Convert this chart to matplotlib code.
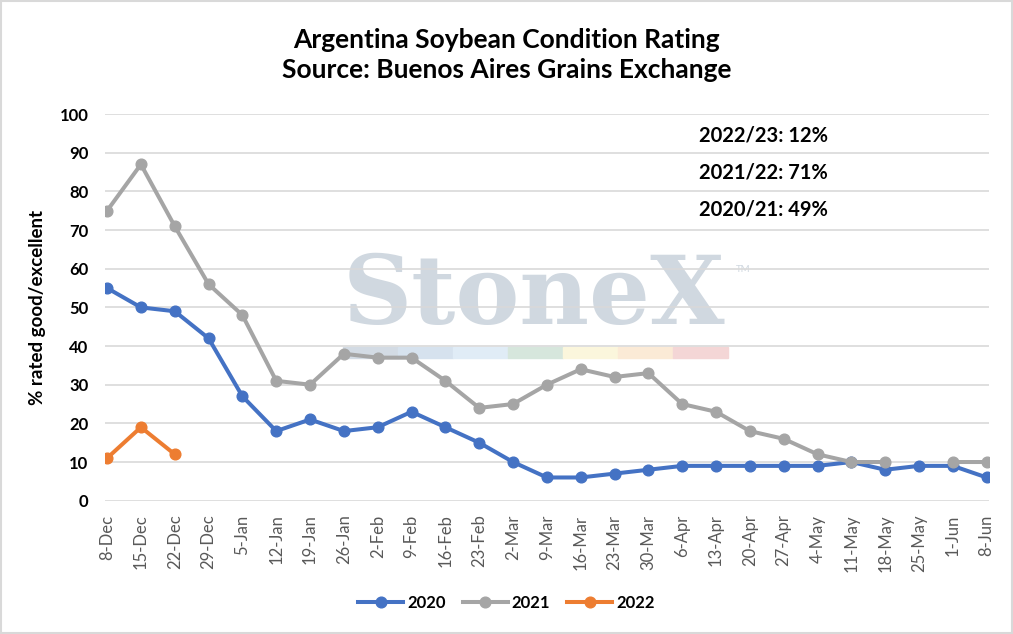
import matplotlib.pyplot as plt
import matplotlib.patches as mpatches
import numpy as np

# --- DATA ---------------------------------------------------------------------
weeks = ["8-Dec", "15-Dec", "22-Dec", "29-Dec", "5-Jan", "12-Jan", "19-Jan",
         "26-Jan", "2-Feb", "9-Feb", "16-Feb", "23-Feb", "2-Mar", "9-Mar",
         "16-Mar", "23-Mar", "30-Mar", "6-Apr", "13-Apr", "20-Apr", "27-Apr",
         "4-May", "11-May", "18-May", "25-May", "1-Jun", "8-Jun"]

s2020 = [55, 50, 49, 42, 27, 18, 21, 18, 19, 23, 19, 15, 10, 6, 6, 7, 8,
         9, 9, 9, 9, 9, 10, 8, 9, 9, 6]
s2021 = [75, 87, 71, 56, 48, 31, 30, 38, 37, 37, 31, 24, 25, 30, 34, 32, 33,
         25, 23, 18, 16, 12, 10, 10, np.nan, 10, 10]
s2022 = [11, 19, 12]

notes = ["2022/23: 12%", "2021/22: 71%", "2020/21: 49%"]

# --- STYLE --------------------------------------------------------------------
plt.rcParams["font.family"] = ["Lato", "DejaVu Sans"]

BLUE   = "#4472C4"
GREY   = "#A5A5A5"
ORANGE = "#ED7D31"

fig = plt.figure(figsize=(10.13, 6.34), dpi=100)
ax  = fig.add_axes([0.1037, 0.2103, 0.8723, 0.6097])
ax.patch.set_alpha(0)

x = np.arange(len(weeks))
ax.plot(x, s2020, color=BLUE, lw=2.9, marker="o", ms=7.7, label="2020", zorder=3)
ax.plot(x, s2021, color=GREY, lw=2.9, marker="o", ms=7.7, label="2021", zorder=3)
ax.plot(x[:len(s2022)], s2022, color=ORANGE, lw=2.9, marker="o", ms=7.7,
        label="2022", zorder=3)

ax.set_xlim(-0.06, len(weeks) - 1 + 0.06)
ax.set_ylim(0, 100)
ax.set_yticks(range(0, 101, 10))
ax.set_xticks(x)
ax.set_xticklabels(weeks, rotation=90, fontsize=12, color="#595959")
for lbl in ax.get_yticklabels():
    lbl.set_fontweight("bold")
    lbl.set_fontsize(12)
ax.tick_params(axis="y", length=0, pad=12)
ax.tick_params(axis="x", length=0, pad=10)

ax.grid(axis="y", color="#D9D9D9", lw=1.2, zorder=0.5)
ax.set_axisbelow(True)
for sp in ax.spines.values():
    sp.set_visible(False)

ax.set_ylabel("% rated good/excellent", fontsize=13.5, fontweight="bold",
              labelpad=10)

# --- WATERMARK ----------------------------------------------------------------
ax.text(343 / 1013, 1 - 324 / 634, "StoneX", family="DejaVu Serif",
        fontweight="bold", fontsize=69, color="#D0D8E0", va="baseline",
        transform=fig.transFigure, zorder=0.1)
ax.text(736 / 1013, 1 - 272 / 634, "TM", fontsize=7, color="#D0D8E0",
        transform=fig.transFigure, zorder=0.1)
band = ["#D3DBE4", "#D6E2EE", "#E0ECF6", "#D6E6DC", "#FBF6DC", "#FBEAD6", "#F4D6D6"]
for i, c in enumerate(band):
    ax.add_patch(mpatches.Rectangle((343 / 1013 + i * 55 / 1013, 1 - 358 / 634),
                                    55 / 1013, 11 / 634,
                                    transform=fig.transFigure,
                                    color=c, zorder=0.1))

# --- TEXT ---------------------------------------------------------------------
for i, t in enumerate(notes):
    fig.text(699 / 1013, 1 - (135 + i * 37.5) / 634, t, fontsize=14.5,
             fontweight="bold", va="center")

fig.text(0.5, 1 - 40 / 634, "Argentina Soybean Condition Rating", ha="center",
         va="center", fontsize=19, fontweight="bold")
fig.text(0.5, 1 - 70 / 634, "Source: Buenos Aires Grains Exchange", ha="center",
         va="center", fontsize=19, fontweight="bold")

ax.legend(loc="center", bbox_to_anchor=(0.5, 1 - 603 / 634),
          bbox_transform=fig.transFigure, ncol=3, frameon=False,
          prop={"weight": "bold", "size": 12}, handlelength=2.7,
          columnspacing=1.0, handletextpad=0.25)

fig.patches.append(mpatches.Rectangle((0.001, 0.001), 0.998, 0.997,
                                      transform=fig.transFigure, fill=False,
                                      edgecolor="#D9D9D9", lw=1.5))

plt.savefig("out.png", dpi=100)
